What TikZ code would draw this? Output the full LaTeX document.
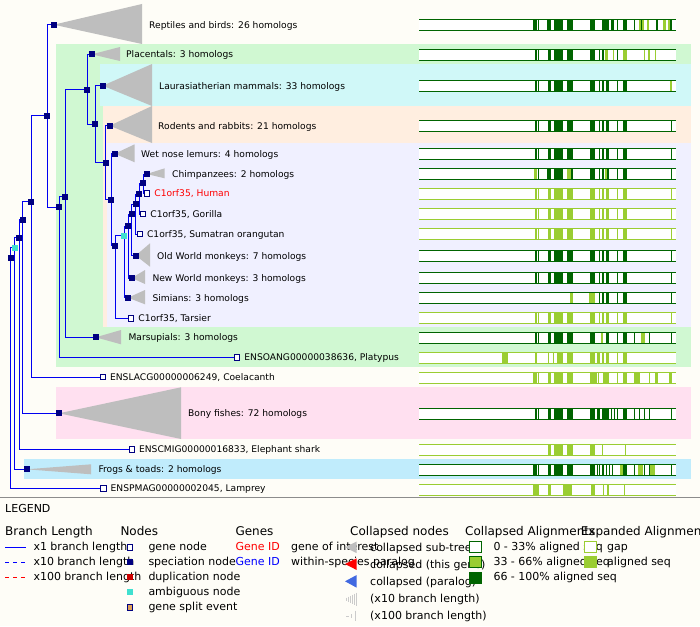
\documentclass[tikz,border=0pt]{standalone}
\usepackage{fontspec}
\setmainfont{DejaVu Sans}
\usetikzlibrary{positioning}

\definecolor{pagebg}{RGB}{254,253,247}
\definecolor{branchblue}{RGB}{0,0,240}
\definecolor{nodenavy}{RGB}{0,0,128}
\definecolor{ambig}{RGB}{64,224,208}
\definecolor{collgray}{RGB}{190,190,190}
\definecolor{alnD}{RGB}{0,100,0}
\definecolor{alnL}{RGB}{154,205,50}
\definecolor{mammalband}{RGB}{208,248,210}
\definecolor{laurband}{RGB}{208,248,248}
\definecolor{rodentband}{RGB}{255,238,224}
\definecolor{primateband}{RGB}{240,240,255}
\definecolor{fishband}{RGB}{255,224,240}
\definecolor{frogband}{RGB}{192,236,252}
\definecolor{splitfill}{RGB}{222,160,90}
\definecolor{dupred}{RGB}{204,0,0}
\definecolor{paralogblue}{RGB}{65,105,225}

\pgfdeclarelayer{bands}
\pgfdeclarelayer{branches}
\pgfsetlayers{bands,branches,main}

\tikzset{
  spec/.style={rectangle, fill=nodenavy, minimum size=6pt, inner sep=0pt},
  ambnode/.style={spec, fill=ambig},
  gene/.style={rectangle, draw=nodenavy, fill=white, line width=0.9pt, minimum size=5.5pt, inner sep=0pt},
  branch/.style={draw=branchblue, line width=1pt},
  tri/.style={fill=collgray},
  lab/.style={anchor=west, inner sep=0pt, text height=1.3ex, text depth=0pt, font=\fontsize{9.15}{11}\selectfont},
  legtxt/.style={anchor=west, inner sep=0pt, text height=1.3ex, text depth=0pt, font=\fontsize{11}{13}\selectfont},
  leghead/.style={anchor=west, inner sep=0pt, text height=1.3ex, text depth=0pt, font=\fontsize{12}{14}\selectfont},
}

% one alignment bar: centre y, border colour, blocks x1/x2/colour
\newcommand\alnrow[3]{%
  \fill[white] (419,#1-5.5) rectangle (675.7,#1+5.5);
  \foreach \a/\b/\c in {#3} \fill[aln\c] (\a,#1-5.5) rectangle (\b,#1+5.5);
  \draw[#2, line width=1pt] (419,#1-5.5) -- (675.7,#1-5.5) (419,#1+5.5) -- (675.7,#1+5.5);
}

\begin{document}
\begin{tikzpicture}[x=1pt,y=-1pt]
\useasboundingbox (0,0) rectangle (700,626);

%BANDS
\begin{pgfonlayer}{bands}
\fill[pagebg] (0,0) rectangle (700,626);
\fill[mammalband] (56,43.7) rectangle (691,366.7);
\fill[laurband] (100,63.7) rectangle (691,106);
\fill[rodentband] (103.3,106) rectangle (691,326.7);
\fill[primateband] (107.3,142.7) rectangle (691,326.7);
\fill[fishband] (56,386.7) rectangle (691,439);
\fill[frogband] (24,459) rectangle (691,479);
\end{pgfonlayer}

%TREE: internal nodes
\node[spec] (root) at (10.7,257.7) {};
\node[ambnode] (vert) at (14.7,247.7) {};
\node[spec] (gnath) at (19,237.7) {};
\node[spec] (osteo) at (22.7,219.7) {};
\node[spec] (sarco) at (31,201.7) {};
\node[spec] (amniota) at (47,115.7) {};
\node[spec] (mammalia) at (59,207) {};
\node[spec] (theria) at (65,196.7) {};
\node[spec] (eutheria) at (87,89.7) {};
\node[spec] (boreo) at (95,124) {};
\node[spec] (euarch) at (105.7,162.7) {};
\node[spec] (primates) at (111,199.7) {};
\node[spec] (haplo) at (115,245.5) {};
\node[ambnode] (simiif) at (124,235.7) {};
\node[spec] (catar) at (128,226) {};
\node[spec] (catarr) at (131.7,214.3) {};
\node[spec] (hominid) at (135.7,204.3) {};
\node[spec] (homininae) at (139.3,194) {};
\node[spec] (hominini) at (143,183.3) {};

%collapsed sub-trees
\node[spec] (reptiles) at (53.7,24.7) {};
\node[spec] (placentals) at (91.7,54.3) {};
\node[spec] (laurasia) at (102.7,85.7) {};
\node[spec] (rodents) at (109.7,125.7) {};
\node[spec] (lemurs) at (114.7,153.7) {};
\node[spec] (chimps) at (146.7,174) {};
\node[spec] (owm) at (135.7,255.5) {};
\node[spec] (nwm) at (131.7,278) {};
\node[spec] (simians) at (128,297.7) {};
\node[spec] (marsupials) at (95.7,337.3) {};
\node[spec] (bonyfish) at (59,413.3) {};
\node[spec] (frogs) at (26.7,469.3) {};

%genes
\node[gene] (human) at (147,193.3) {};
\node[gene] (gorilla) at (143,214) {};
\node[gene] (orang) at (139.7,234) {};
\node[gene] (tarsier) at (131,318.3) {};
\node[gene] (platypus) at (237,357.3) {};
\node[gene] (coelacanth) at (102.7,377) {};
\node[gene] (eshark) at (131.7,449.3) {};
\node[gene] (lamprey) at (103.3,488.3) {};

\begin{pgfonlayer}{branches}
\foreach \p/\c in {root/vert, root/lamprey, vert/gnath, vert/frogs, gnath/osteo, gnath/eshark,
  osteo/sarco, osteo/bonyfish, sarco/amniota, sarco/coelacanth, amniota/reptiles, amniota/mammalia,
  mammalia/theria, mammalia/platypus, theria/eutheria, theria/marsupials, eutheria/placentals,
  eutheria/boreo, boreo/laurasia, boreo/euarch, euarch/rodents, euarch/primates, primates/lemurs,
  primates/haplo, haplo/simiif, haplo/tarsier, simiif/catar, simiif/simians, catar/catarr, catar/nwm,
  catarr/hominid, catarr/owm, hominid/homininae, hominid/orang, homininae/hominini,
  homininae/gorilla, hominini/chimps, hominini/human}
  \draw[branch] (\p.center) |- (\c.center);
\foreach \n/\bx/\ya/\yb in {reptiles/142/4/44, placentals/120/47/61, laurasia/152/64/106,
  rodents/152/106/143, lemurs/134.7/144.3/162.3, chimps/164.7/168.3/178.3, owm/150/243.3/266.7,
  nwm/145/270/284, simians/145/290/304.3, marsupials/121/330/344.3, bonyfish/181/387.3/439,
  frogs/91/464.3/474.3}
  \fill[tri] (\n.center) -- (\bx,\ya) -- (\bx,\yb) -- cycle;
\end{pgfonlayer}

%labels
\node[lab] (reptiles-l) at (149,24.7) {Reptiles and birds: 26 homologs};
\node[lab] (placentals-l) at (126,54.3) {Placentals: 3 homologs};
\node[lab] (laurasia-l) at (159,85.7) {Laurasiatherian mammals: 33 homologs};
\node[lab] (rodents-l) at (158,125.7) {Rodents and rabbits: 21 homologs};
\node[lab] (lemurs-l) at (141,153.7) {Wet nose lemurs: 4 homologs};
\node[lab] (chimps-l) at (172,174) {Chimpanzees: 2 homologs};
\node[lab, text=red, right=4pt of human] (human-l) {C1orf35, Human};
\node[lab, right=4pt of gorilla] (gorilla-l) {C1orf35, Gorilla};
\node[lab, right=4pt of orang] (orang-l) {C1orf35, Sumatran orangutan};
\node[lab] (owm-l) at (157,255.5) {Old World monkeys: 7 homologs};
\node[lab] (nwm-l) at (152.3,278) {New World monkeys: 3 homologs};
\node[lab] (simians-l) at (152.3,297.7) {Simians: 3 homologs};
\node[lab, right=4pt of tarsier] (tarsier-l) {C1orf35, Tarsier};
\node[lab] (marsupials-l) at (128.3,337.3) {Marsupials: 3 homologs};
\node[lab, right=4pt of platypus] (platypus-l) {ENSOANG00000038636, Platypus};
\node[lab, right=4pt of coelacanth] (coelacanth-l) {ENSLACG00000006249, Coelacanth};
\node[lab] (bonyfish-l) at (188,413.3) {Bony fishes: 72 homologs};
\node[lab, right=4pt of eshark] (eshark-l) {ENSCMIG00000016833, Elephant shark};
\node[lab] (frogs-l) at (98.3,469.3) {Frogs \& toads: 2 homologs};
\node[lab, right=4pt of lamprey] (lamprey-l) {ENSPMAG00000002045, Lamprey};

%ALIGNMENTS
\alnrow{24.8}{alnD}{533/537/D, 538/539.3/D, 547/551/D, 554/563/D, 567/572.7/D, 590/595/D, 602/609/D, 611/613.7/D, 616.7/617.7/D, 623/627/D, 634.3/635/D, 639.3/640.7/L, 641.3/642.3/D, 642.3/644.3/L, 646.7/648.7/L, 656/657.7/D, 663/666/L, 667.7/669.7/L, 670.3/671.7/D}
\alnrow{54.8}{alnD}{535/537/D, 538/539.3/D, 548/551/D, 554/563/D, 567/572.7/D, 590/595/D, 599/600/D, 602/603.7/D, 605/608/L, 613/614/L, 616.7/617.7/D, 623/627/L, 644/645/L, 648/649.7/L, 655/656/L}
\alnrow{85.8}{alnD}{535/537/D, 538/539.3/D, 548/551/D, 554/563/D, 567/572.7/D, 590/595/D, 599/600/D, 602/603.7/D, 606/609/D, 616.7/617.7/D, 623/627/D, 669.7/671.7/L}
\alnrow{125.8}{alnD}{535/537/D, 538/539.3/D, 548/551/D, 554/563/D, 567/572.7/D, 590/595/D, 599/600/D, 602/603.7/D, 606/609/D, 616.7/617.7/D, 623/627/D, 671/672/D}
\alnrow{153.8}{alnD}{535/537/D, 538/539.3/D, 548/551/D, 554/563/D, 567/572.7/D, 590/595/D, 599/600/D, 602/603.7/D, 606/609/D, 616.7/617.7/D, 623/627/D, 671/672/D}
\alnrow{173.8}{alnD}{534/537/L, 538/539.3/D, 547/551/D, 554/563/D, 567/571/L, 571/572.7/D, 590/595/D, 599/600/D, 602/603.7/D, 605/607/L, 607/609/D, 616.7/617.7/D, 623/627/D, 671/672/D}
\alnrow{193.8}{alnL}{535/537/L, 538/539.3/L, 548/551/L, 554/563/L, 567/572.7/L, 590/595/L, 599/600/L, 602/603.7/L, 606/609/L, 616.7/617.7/L, 623/627/L, 671/672/L}
\alnrow{213.8}{alnL}{535/537/L, 538/539.3/L, 548/551/L, 554/563/L, 567/572.7/L, 590/595/L, 599/600/L, 602/603.7/L, 606/609/L, 616.7/617.7/L, 623/627/L, 671/672/L}
\alnrow{233.8}{alnL}{535/537/L, 538/539.3/L, 548/551/L, 554/563/L, 567/572.7/L, 590/595/L, 599/600/L, 602/603.7/L, 606/609/L, 616.7/617.7/L, 623/627/L, 671/672/L}
\alnrow{255.8}{alnD}{535/537/D, 538/539.3/D, 548/551/D, 554/563/D, 567/572.7/D, 590/595/D, 599/600/D, 602/603.7/D, 606/609/D, 616.7/617.7/D, 623/627/D, 671/672/D}
\alnrow{277.8}{alnD}{535/537/D, 538/539.3/D, 548/551/D, 554/563/D, 567/572.7/D, 590/595/D, 599/600/D, 602/603.7/D, 606/609/D, 616.7/617.7/D, 623/627/D, 671/672/D}
\alnrow{297.8}{alnD}{570/572.7/L, 589/595/L, 599/600/D, 602/603.7/D, 606/609/D, 616.7/617.7/D, 623/627/D, 671/672/D}
\alnrow{317.8}{alnL}{535/537/L, 538/539.3/L, 548/551/L, 554/563/L, 567/572.7/L, 590/595/L, 599/600/L, 602/603.7/L, 606/609/L, 616.7/617.7/L, 623/627/L, 671/672/L}
\alnrow{337.8}{alnD}{535/537/D, 538/539.3/D, 548/551/D, 554/563/D, 567/572.7/D, 590/595/D, 601/602.7/L, 606/609/D, 616.7/617.7/D, 623/627/D, 634.3/635/D, 641/644.7/L, 649/649.7/D, 671/672/D}
\alnrow{357.8}{alnL}{502/507.7/L, 535/537/L, 548/549/L, 553.3/554.3/L, 557/563/L, 567/572.7/L, 590/595/L, 597/600/L, 602/603.7/L, 606/609/L, 616.7/617.7/L, 623/627/L}
\alnrow{377.8}{alnL}{533/537/L, 538/539.3/L, 548/551/L, 554/563/L, 567/572.7/L, 590/597/L, 598/599/L, 603/609/L, 616.7/617.7/L, 623/627/L, 634.3/640/L, 649/650/L, 655/657.7/L, 669/672/L}
\alnrow{413.8}{alnD}{535/537/D, 538/539.3/D, 548/551/D, 554/563/D, 567/572.7/D, 590/595/D, 596.7/600/D, 602/609/D, 611/612.3/D, 614/615/D, 616.7/617.7/D, 623/627/D, 634.3/635/D, 639.3/640/D, 644.3/645/D, 649/650/D, 671/672/D}
\alnrow{449.8}{alnL}{548/551/L, 554/563/L, 567/572.7/L, 590/595/L, 602/602.7/L, 625/625.7/L}
\alnrow{469.8}{alnD}{533/537/D, 538/539.3/D, 548/551/D, 554/563/D, 567/572.7/D, 590/595/D, 596.7/597.7/D, 598.7/600/D, 602/603.7/D, 606/607/D, 609/610/D, 612/613/D, 620/623/L, 623/627/D, 634.3/635/D, 638/643/L, 644.3/645/D, 649/650/D, 650/655/L, 671/672/D}
\alnrow{489.5}{alnL}{533.3/539/L, 548.3/550.7/L, 563.3/572.3/L, 590.7/595/L, 602.7/604/L, 606.7/608.7/L, 624/625/L}

%LEGEND
\draw[gray!90] (0,497.3) -- (700,497.3);
\node[legtxt] (legend) at (5,509) {LEGEND};
\node[leghead] (h-branch) at (5,531.7) {Branch Length};
\node[leghead] (h-nodes) at (120.3,531.7) {Nodes};
\node[leghead] (h-genes) at (235.3,531.7) {Genes};
\node[leghead] (h-coll) at (350,531.7) {Collapsed nodes};
\node[leghead] (h-calign) at (465,531.7) {Collapsed Alignments};
\node[leghead] (h-ealign) at (580.7,531.7) {Expanded Alignments};

\draw[blue, line width=1pt] (5,547.3) -- (26,547.3);
\draw[blue, line width=1pt, dash pattern=on 4pt off 4pt] (5,562) -- (26,562);
\draw[red, line width=1pt, dash pattern=on 4pt off 4pt] (5,577.3) -- (26,577.3);
\node[legtxt] (bl-1) at (33.3,547.3) {x1 branch length};
\node[legtxt] (bl-10) at (33.3,562) {x10 branch length};
\node[legtxt] (bl-100) at (33.3,577.3) {x100 branch length};

\node[legtxt] (nd-gene) at (148.3,547.3) {gene node};
\node[legtxt] (nd-spec) at (148.3,562) {speciation node};
\node[legtxt] (nd-dup) at (148.3,577.3) {duplication node};
\node[legtxt] (nd-amb) at (148.3,592) {ambiguous node};
\node[legtxt] (nd-split) at (148.3,607.3) {gene split event};
\node[gene] (k-gene) at (130,547.3) {};
\node[spec] (k-spec) at (130,562) {};
\node[spec, fill=dupred] (k-dup) at (130,577.3) {};
\node[ambnode] (k-amb) at (130,592) {};
\node[gene, fill=splitfill] (k-split) at (130,607.3) {};

\node[legtxt, text=red] (gn-red) at (235.3,547.3) {Gene ID};
\node[legtxt, text=blue] (gn-blue) at (235.3,562) {Gene ID};
\node[legtxt] (gn-int) at (291,547.3) {gene of interest};
\node[legtxt] (gn-par) at (291,562) {within-species paralog};

\fill[tri] (345,547.3) -- (356.7,541.5) -- (356.7,553.1) -- cycle;
\fill[red] (345,564) -- (356.7,558.3) -- (356.7,570) -- cycle;
\fill[paralogblue] (345,581.3) -- (356.7,575) -- (356.7,587.7) -- cycle;
\foreach \i/\h in {0/1.5, 1/2.5, 2/3.5, 3/4.5, 4/5.5, 5/6.5}
  \draw[collgray!80, line width=0.5pt] (346.7+2*\i,599-\h) -- (346.7+2*\i,599+\h);
\draw[collgray!80, line width=0.5pt] (346,616) -- (348.5,616) (351.7,614) -- (351.7,618) (355.5,610.5) -- (355.5,621);
\node[legtxt] (cn-sub) at (370,548.3) {collapsed sub-tree};
\node[legtxt] (cn-this) at (370,565) {collapsed (this gene)};
\node[legtxt] (cn-par) at (370,581.7) {collapsed (paralog)};
\node[legtxt] (cn-10) at (370,599) {(x10 branch length)};
\node[legtxt] (cn-100) at (370,616) {(x100 branch length)};

\filldraw[fill=white, draw=alnD, line width=1pt] (469.8,541.5) rectangle (481.2,552.8);
\filldraw[fill=alnL, draw=alnD, line width=1pt] (469.8,556.5) rectangle (481.2,567.8);
\fill[alnD] (469.3,571.7) rectangle (481.7,583.7);
\node[legtxt] (ca-0) at (493.3,547.3) {0 - 33\% aligned seq};
\node[legtxt] (ca-33) at (493.3,562.3) {33 - 66\% aligned seq};
\node[legtxt] (ca-66) at (493.3,577.3) {66 - 100\% aligned seq};

\filldraw[fill=white, draw=alnL, line width=1pt] (584.8,541.5) rectangle (596.2,552.8);
\fill[alnL] (584.3,556) rectangle (596.7,568.3);
\node[legtxt] (ea-gap) at (607,547.3) {gap};
\node[legtxt] (ea-seq) at (607,562.3) {aligned seq};
\end{tikzpicture}
\end{document}
